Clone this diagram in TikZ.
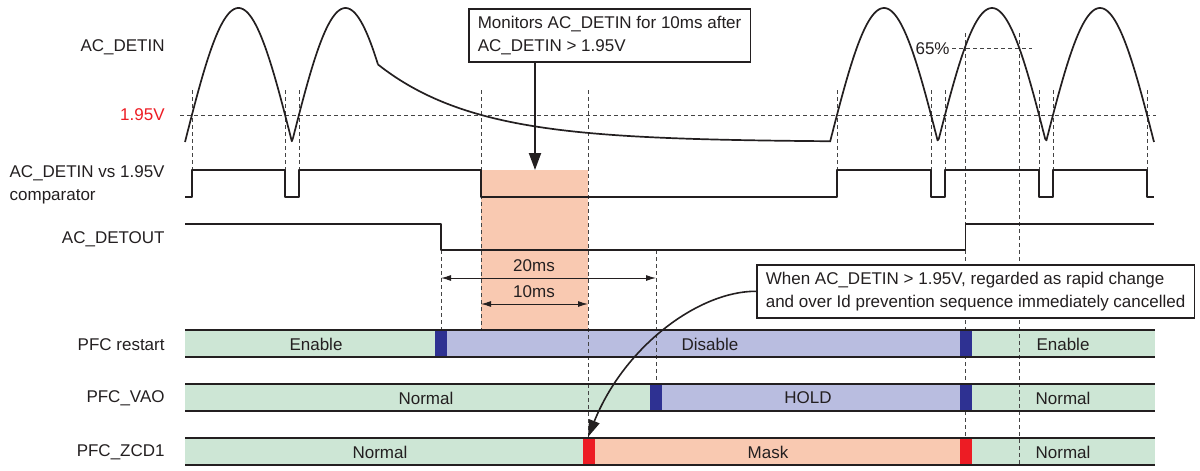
\documentclass[tikz,border=0pt]{standalone}
\usepackage{fontspec}
\setmainfont{Liberation Sans}
\usetikzlibrary{arrows.meta}
\definecolor{gbar}{HTML}{CDE6D5}
\definecolor{lbar}{HTML}{B9BDE0}
\definecolor{navy}{HTML}{2E3192}
\definecolor{rmark}{HTML}{ED1C24}
\definecolor{salmon}{HTML}{F9C9B1}
\definecolor{guide}{HTML}{444444}
\definecolor{ink}{HTML}{231F20}
\begin{document}
\begin{tikzpicture}[x=0.5pt,y=-0.5pt,
  every node/.style={font=\fontsize{8.5}{11.5}\selectfont, text=ink},
  lbl/.style={anchor=east, inner sep=0pt},
  wave/.style={line width=0.85pt, draw=ink, line join=round},
  guideline/.style={draw=guide, line width=0.5pt, dash pattern=on 2pt off 1.5pt},
  barline/.style={line width=0.7pt, draw=ink},
  bartext/.style={inner sep=0pt},
  callout/.style={draw=ink, line width=0.8pt, fill=white, align=left, inner xsep=4.5pt, minimum height=26.5pt, anchor=north west},
  dimarrow/.style={line width=0.5pt, draw=ink, {Latex[length=5pt,width=3pt]}-{Latex[length=5pt,width=3pt]}},
]
\useasboundingbox (0,0) rectangle (1200,471);

% monitoring window
\fill[salmon] (481,170) rectangle (588,330);

% bar fills
\fill[gbar] (185,330) rectangle (435,357);
\fill[lbar] (447,330) rectangle (960,357);
\fill[gbar] (972,330) rectangle (1155,357);
\fill[gbar] (185,384) rectangle (650,411);
\fill[lbar] (662,384) rectangle (960,411);
\fill[gbar] (972,384) rectangle (1155,411);
\fill[gbar] (185,438) rectangle (583,465);
\fill[salmon] (595,438) rectangle (960,465);
\fill[gbar] (972,438) rectangle (1155,465);

% guide lines
\draw[guideline] (180,115) -- (1156,115);
\foreach \gx in {192,285,299,837,931,945,1039,1053,1147}
  \draw[guideline] (\gx,90) -- (\gx,170);
\draw[guideline] (481,90) -- (481,330);
\draw[guideline] (588,90) -- (588,438);
\draw[guideline] (441,250) -- (441,330);
\draw[guideline] (656,250) -- (656,384);
\draw[guideline] (965.5,33) -- (965.5,465);
\draw[guideline] (1019,33) -- (1019,465);
\draw[guideline] (952,48) -- (1032,48);

% markers
\fill[navy] (435,330) rectangle (447,357);
\fill[navy] (960,330) rectangle (972,357);
\fill[navy] (650,384) rectangle (662,411);
\fill[navy] (960,384) rectangle (972,411);
\fill[rmark] (583,438) rectangle (595,465);
\fill[rmark] (960,438) rectangle (972,465);

% bar borders
\foreach \by in {330,357,384,411,438,465}
  \draw[barline] (185,\by) -- (1155,\by);

% AC_DETIN waveform
\draw[wave] plot[domain=185:378, samples=160] (\x, {142-134*abs(sin((\x-185)/107*180))});
\draw[wave] plot[domain=378:830, samples=120] (\x, {142-77.5*exp(-(\x-378)/98)});
\draw[wave] plot[domain=830:1154, samples=260] (\x, {142-134*abs(sin((\x-830)/108*180))});

% comparator
\draw[wave] (185,197) -- (192,197) -- (192,170) -- (285,170) -- (285,197) -- (299,197) -- (299,170)
  -- (481,170) -- (481,197) -- (837,197) -- (837,170) -- (931,170) -- (931,197) -- (945,197)
  -- (945,170) -- (1039,170) -- (1039,197) -- (1053,197) -- (1053,170) -- (1147,170) -- (1147,197) -- (1154,197);

% AC_DETOUT
\draw[wave] (185,224) -- (441,224) -- (441,250) -- (965.5,250) -- (965.5,224) -- (1154,224);

% row labels
\node[lbl] (lin) at (165,47) {AC\_DETIN};
\node[lbl, text=rmark] (lth) at (165,115) {1.95V};
\node[lbl, align=left] (lcmp) at (165,185) {AC\_DETIN vs 1.95V\\comparator};
\node[lbl] (lout) at (165,239) {AC\_DETOUT};
\node[lbl] (lpfc) at (165,345) {PFC restart};
\node[lbl] (lvao) at (165,398) {PFC\_VAO};
\node[lbl] (lzcd) at (165,452) {PFC\_ZCD1};
\node[inner sep=0pt, anchor=east] (l65) at (950,49) {65\%};

% bar texts
\node[bartext] (t1) at (316,344) {Enable};
\node[bartext] (t2) at (710,344) {Disable};
\node[bartext] (t3) at (1063,344) {Enable};
\node[bartext] (t4) at (426,398) {Normal};
\node[bartext] (t5) at (808,398) {HOLD};
\node[bartext] (t6) at (1063,398) {Normal};
\node[bartext] (t7) at (380,452) {Normal};
\node[bartext] (t8) at (768,452) {Mask};
\node[bartext] (t9) at (1063,452) {Normal};

% dimensions
\coordinate (d20a) at (441,278);
\coordinate (d20b) at (656,278);
\coordinate (d10a) at (481,304);
\coordinate (d10b) at (588,304);
\draw[dimarrow] (d20a) -- (d20b);
\draw[dimarrow] (d10a) -- (d10b);
\node[inner sep=0pt] (t20) at (534,266) {20ms};
\node[inner sep=0pt] (t10) at (534,292) {10ms};

% callouts
\node[callout] (box1) at (468,8) {Monitors AC\_DETIN for 10ms after\\AC\_DETIN > 1.95V};
\coordinate (a1) at (535,170);
\draw[line width=1pt, draw=ink, -{Triangle[length=8.5pt,width=6pt]}] (box1.south -| a1) -- (a1);

\node[callout] (box2) at (756,264) {When AC\_DETIN > 1.95V, regarded as rapid change\\and over Id prevention sequence immediately cancelled};
\coordinate (zmark) at (588,437);
\draw[line width=0.8pt, draw=ink, -{Triangle[length=8.5pt,width=5.5pt]}] (box2.west) .. controls (700,291) and (625,345) .. (zmark);
\end{tikzpicture}
\end{document}
